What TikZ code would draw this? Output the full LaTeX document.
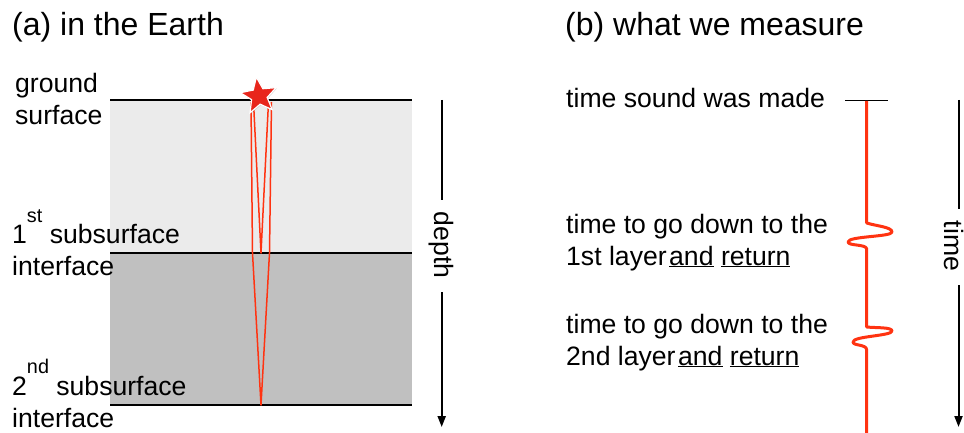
\documentclass[tikz,border=0pt]{standalone}
\usepackage{fontspec}
\setmainfont{Liberation Sans}
\usetikzlibrary{shapes.geometric,arrows.meta,calc,shadows}
\newcommand\lblfont{\fontsize{26.6}{32}\selectfont}
\newcommand\ttlfont{\fontsize{32}{38}\selectfont}
\newcommand\supfont{\fontsize{19.8}{20}\selectfont}
\definecolor{layerA}{HTML}{EBEBEB}
\definecolor{layerB}{HTML}{C0C0C0}
\definecolor{ray}{HTML}{FF3311}
\definecolor{starred}{HTML}{E8261C}

\begin{document}
\begin{tikzpicture}[x=1pt,y=-1pt,
  txt/.style={font=\lblfont, inner sep=0pt, anchor=base west},
  ttl/.style={font=\ttlfont, inner sep=0pt, anchor=base west},
  iface/.style={line width=2.4pt},
  raypath/.style={draw=ray, line width=1.5pt, line join=round},
  axisline/.style={line width=2pt},
  axisarrow/.style={line width=2pt, -{Triangle[width=8pt,length=11pt]}},
  trace/.style={draw=ray, line width=3pt, line join=round},
  vlabel/.style={font=\lblfont, inner sep=0pt, rotate=-90},
]
\useasboundingbox (0,0) rectangle (964,433);

% ---------- (a) in the Earth ----------
\node[ttl] (ttlA) at (12,36) {(a) in the Earth};

% layers
\fill[layerA] (110,100) rectangle (412,253);
\fill[layerB] (110,253) rectangle (412,405);
\draw[iface] (110,100) -- (412,100);
\draw[iface] (110,253) -- (412,253);
\draw[iface] (110,405) -- (412,405);

% reflected ray paths
\draw[raypath] (251,102) -- (252.5,253) -- (261,405) -- (269.5,253) -- (271.5,102);
\draw[raypath] (253.5,102) -- (261,253) -- (268.5,102);

% source
\node[star, star points=5, star point ratio=2.3, minimum size=38pt, inner sep=0pt,
      fill=starred, draw=white, line width=1.2pt, shape border rotate=8,
      drop shadow={shadow xshift=0.8pt, shadow yshift=-0.8pt, opacity=0.35}]
      (src) at (259,96) {};

% layer labels
\node[txt] (gnd1) at (15,93) {ground};
\node[txt] (gnd2) at (15,125) {surface};
\node[txt] (if1a) at (12,243) {1\raisebox{21pt}{\supfont st} subsurface};
\node[txt] (if1b) at (12,275) {interface};
\node[txt] (if2a) at (12,395) {2\raisebox{22pt}{\supfont nd} subsurface};
\node[txt] (if2b) at (12,427) {interface};

% depth axis
\coordinate (dtop) at (441.7,100);
\coordinate (dbot) at (441.7,427);
\node[vlabel] (depthlbl) at (441.7,245) {depth};
\draw[axisline] (dtop) -- ($(depthlbl.west)+(0,-12)$);
\draw[axisarrow] ($(depthlbl.east)+(0,14)$) -- (dbot);

% ---------- (b) what we measure ----------
\node[ttl] (ttlB) at (565,36) {(b) what we measure};

\node[txt] (t0) at (566,108) {time sound was made};
\node[txt] (t1a) at (566,233) {time to go down to the};
\node[txt] (t1b) at (566,265) {1st layer\hspace{2.5pt}\underline{and} \underline{return}};
\node[txt] (t2a) at (566,333) {time to go down to the};
\node[txt] (t2b) at (566,365) {2nd layer\hspace{2.5pt}\underline{and} \underline{return}};

% zero-time tick and recorded trace
\coordinate (tickL) at (845,100.7);
\coordinate (tickR) at (888,100.7);
\draw[line width=1.3pt] (tickL) -- (tickR);
\draw[trace] (866.7,101) -- (866.7,223)
  .. controls (876,226) and (892,227) .. (892,232)
  .. controls (892,237) and (848,236) .. (848,242)
  .. controls (848,246) and (866.7,244) .. (866.7,249)
  -- (866.7,327)
  .. controls (876,328) and (892,327) .. (892,331)
  .. controls (892,336) and (853,336) .. (853,342)
  .. controls (853,346) and (866.7,344) .. (866.7,350)
  -- (866.7,433);

% time axis
\coordinate (ttop) at (958.5,100);
\coordinate (tbot) at (958.5,427);
\node[vlabel] (timelbl) at (953.5,246) {time};
\draw[axisline] (ttop) -- ($(ttop|-timelbl.west)+(0,-12)$);
\draw[axisarrow] ($(tbot|-timelbl.east)+(0,14)$) -- (tbot);
\end{tikzpicture}
\end{document}
